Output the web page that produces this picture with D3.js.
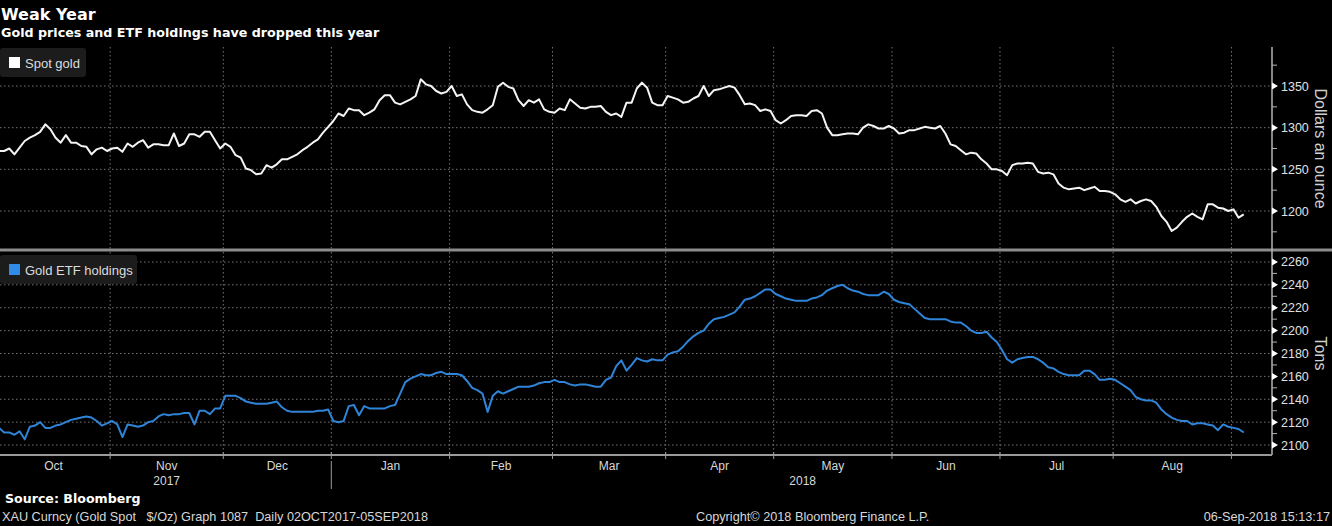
<!DOCTYPE html>
<html>
<head>
<meta charset="utf-8">
<title>Weak Year</title>
<script src="https://cdn.jsdelivr.net/npm/d3@7"></script>
<style>
  body { margin: 0; background: #000; }
  svg { display: block; }
  text { font-family: "Liberation Sans", Arial, sans-serif; }
  .bold { font-family: "DejaVu Sans", Verdana, sans-serif; font-weight: bold; }
</style>
</head>
<body>
<svg id="chart" width="1332" height="526"></svg>
<script>
// one value per trading day, 02 Oct 2017 .. 05 Sep 2018
var goldSpot = [
  1272,1272,1275,1268,1276,1284,1288,1291,1295,1304,1298,1288,1282,1291,1282,1282,1278,1277,1268,1274,
  1276,1272,1275,1276,1271,1281,1277,1282,1285,1276,1280,1280,1279,1279,1293,1278,1281,1292,1292,1289,
  1295,1295,1285,1275,1281,1277,1267,1264,1251,1249,1244,1245,1255,1252,1256,1262,1262,1265,1268,1273,
  1277,1282,1286,1294,1301,1308,1317,1314,1323,1321,1321,1315,1318,1322,1333,1339,1339,1330,1328,1331,
  1334,1338,1358,1352,1350,1344,1341,1343,1350,1338,1340,1328,1321,1319,1318,1322,1327,1349,1354,1349,
  1347,1333,1326,1333,1330,1334,1322,1319,1318,1323,1321,1334,1329,1324,1323,1325,1325,1326,1319,1315,
  1317,1313,1330,1330,1347,1354,1348,1330,1327,1327,1338,1336,1334,1330,1331,1335,1338,1350,1338,1345,
  1346,1348,1350,1348,1339,1328,1329,1327,1320,1322,1320,1309,1305,1309,1314,1315,1315,1314,1320,1321,
  1317,1300,1291,1291,1292,1293,1293,1292,1300,1304,1302,1299,1299,1302,1299,1293,1294,1297,1297,1299,
  1301,1300,1299,1302,1293,1280,1278,1273,1268,1270,1269,1262,1257,1250,1250,1248,1243,1255,1257,1257,
  1258,1257,1247,1245,1246,1244,1233,1228,1226,1227,1228,1225,1227,1229,1224,1224,1223,1220,1214,1211,
  1214,1209,1212,1214,1212,1205,1194,1187,1176,1180,1187,1193,1197,1193,1190,1208,1208,1204,1203,1200,
  1202,1192,1196
];
var etfHoldings = [
  2115,2111,2111,2109,2112,2105,2116,2117,2120,2115,2115,2117,2118,2120,2122,2123,2124,2125,2124,2121,
  2117,2119,2121,2118,2107,2118,2117,2116,2117,2120,2121,2125,2127,2126,2127,2127,2128,2128,2118,2130,
  2130,2127,2132,2132,2143,2143,2143,2141,2138,2137,2136,2136,2136,2137,2138,2133,2130,2129,2129,2129,
  2129,2129,2130,2130,2131,2121,2120,2121,2134,2135,2126,2134,2132,2132,2132,2132,2134,2135,2145,2155,
  2158,2160,2162,2161,2161,2163,2164,2162,2162,2162,2161,2156,2150,2148,2145,2129,2143,2147,2145,2147,
  2149,2151,2151,2151,2152,2154,2155,2155,2157,2155,2155,2153,2152,2153,2153,2152,2151,2151,2157,2159,
  2169,2174,2165,2170,2176,2174,2173,2175,2174,2174,2179,2181,2182,2186,2191,2195,2198,2200,2206,2210,
  2211,2212,2214,2216,2221,2227,2228,2230,2233,2236,2236,2232,2230,2228,2227,2226,2226,2226,2228,2229,
  2231,2235,2237,2239,2240,2237,2235,2234,2232,2231,2231,2231,2234,2232,2227,2225,2224,2223,2219,2215,
  2211,2210,2210,2210,2210,2208,2207,2207,2204,2200,2198,2198,2199,2194,2190,2183,2175,2172,2175,2176,
  2177,2177,2175,2172,2168,2167,2164,2162,2161,2161,2161,2165,2165,2162,2157,2157,2158,2157,2154,2151,
  2148,2142,2140,2139,2139,2137,2131,2127,2124,2122,2121,2121,2118,2119,2119,2118,2117,2113,2118,2116,
  2115,2114,2111
];
var goldTicks = [1200, 1250, 1300, 1350];
var goldMinor = [1175, 1225, 1275, 1325, 1375];
var etfTicks = [2100, 2120, 2140, 2160, 2180, 2200, 2220, 2240, 2260];
var etfMinor = [2110, 2130, 2150, 2170, 2190, 2210, 2230, 2250];
var monthNames = ["Jan","Feb","Mar","Apr","May","Jun","Jul","Aug","Sep","Oct","Nov","Dec"];

// trading days (weekdays) starting 02 Oct 2017
var days = [];
var d = new Date(2017, 9, 2);
while (days.length < goldSpot.length) {
  if (d.getDay() !== 0 && d.getDay() !== 6) days.push(new Date(d));
  d.setDate(d.getDate() + 1);
}

var svg = d3.select("#chart");
var W = 1332, plotRight = 1272;
var topY0 = 47, topY1 = 249, botY0 = 252, botY1 = 455;

var x = d3.scaleLinear().domain([0, 247.5]).range([-1, plotRight]);
var yGold = d3.scaleLinear().domain([1154.4, 1396.8]).range([topY1, topY0]);
var yEtf = d3.scaleLinear().domain([2091.3, 2268.7]).range([botY1, botY0]);

// first trading day of each month
var monthStarts = [];
days.forEach(function (day, i) {
  if (i > 0 && day.getMonth() !== days[i - 1].getMonth()) monthStarts.push(i);
});

var grid = svg.append("g").attr("stroke", "#747474").attr("stroke-dasharray", "1.5,2.5");
monthStarts.forEach(function (i) {
  grid.append("line").attr("x1", x(i) - 2).attr("x2", x(i) - 2).attr("y1", topY0).attr("y2", topY1);
  grid.append("line").attr("x1", x(i) - 2).attr("x2", x(i) - 2).attr("y1", botY0).attr("y2", botY1);
});
goldTicks.forEach(function (v) {
  grid.append("line").attr("x1", 0).attr("x2", plotRight).attr("y1", yGold(v)).attr("y2", yGold(v));
});
etfTicks.forEach(function (v) {
  grid.append("line").attr("x1", 0).attr("x2", plotRight).attr("y1", yEtf(v)).attr("y2", yEtf(v));
});

// lines
var goldLine = d3.line().x(function (v, i) { return x(i); }).y(function (v) { return yGold(v); });
var etfLine = d3.line().x(function (v, i) { return x(i); }).y(function (v) { return yEtf(v); });
svg.append("path").datum(goldSpot).attr("d", goldLine)
  .attr("fill", "none").attr("stroke", "#f4f4f4").attr("stroke-width", 2).attr("stroke-linejoin", "round");
svg.append("path").datum(etfHoldings).attr("d", etfLine)
  .attr("fill", "none").attr("stroke", "#2f84d8").attr("stroke-width", 2).attr("stroke-linejoin", "round");

// panel separator and axes
svg.append("rect").attr("x", 0).attr("y", 248.5).attr("width", W).attr("height", 3).attr("fill", "#8c8c8c");
svg.append("line").attr("x1", plotRight).attr("x2", plotRight).attr("y1", topY0).attr("y2", botY1)
  .attr("stroke", "#b4b4b4").attr("stroke-width", 1.5);
svg.append("line").attr("x1", 0).attr("x2", plotRight).attr("y1", botY1).attr("y2", botY1)
  .attr("stroke", "#9a9a9a").attr("stroke-width", 2);

function rightAxis(scale, ticks, minor) {
  var g = svg.append("g");
  ticks.forEach(function (v) {
    var y = scale(v);
    g.append("path").attr("d", "M" + plotRight + "," + (y - 3.5) + "L" + (plotRight + 6) + "," + y + "L" + plotRight + "," + (y + 3.5) + "Z")
      .attr("fill", "#fff");
    g.append("text").attr("x", plotRight + 9).attr("y", y + 4.5).text(v)
      .attr("fill", "#e0e0e0").attr("font-size", 12.5);
  });
  minor.forEach(function (v) {
    g.append("line").attr("x1", plotRight).attr("x2", plotRight + 5).attr("y1", scale(v)).attr("y2", scale(v))
      .attr("stroke", "#b4b4b4");
  });
}
rightAxis(yGold, goldTicks, goldMinor);
rightAxis(yEtf, etfTicks, etfMinor);

svg.append("text").attr("transform", "translate(1315," + yGold(1275) + ") rotate(90)")
  .attr("text-anchor", "middle").attr("fill", "#d0d0d0").attr("font-size", 16).text("Dollars an ounce");
svg.append("text").attr("transform", "translate(1315," + yEtf(2180) + ") rotate(90)")
  .attr("text-anchor", "middle").attr("fill", "#d0d0d0").attr("font-size", 16).text("Tons");

// month ticks and labels
var bounds = [0].concat(monthStarts).concat([days.length]);
monthStarts.forEach(function (i) {
  svg.append("line").attr("x1", x(i) - 2).attr("x2", x(i) - 2).attr("y1", botY1 - 3).attr("y2", botY1 + 4)
    .attr("stroke", "#9a9a9a");
});
for (var k = 0; k < bounds.length - 2; k++) {
  var mid = (x(bounds[k]) + x(bounds[k + 1])) / 2 - 2;
  svg.append("text").attr("x", mid).attr("y", 470).attr("text-anchor", "middle")
    .attr("fill", "#d8d8d8").attr("font-size", 12).text(monthNames[days[bounds[k]].getMonth()]);
}
var janIdx = monthStarts[2];
svg.append("line").attr("x1", x(janIdx) - 2).attr("x2", x(janIdx) - 2).attr("y1", 461).attr("y2", 489)
  .attr("stroke", "#9a9a9a");
svg.append("text").attr("x", x(janIdx) / 2).attr("y", 485).attr("text-anchor", "middle")
  .attr("fill", "#d8d8d8").attr("font-size", 12).text("2017");
svg.append("text").attr("x", (x(janIdx) + plotRight) / 2).attr("y", 485).attr("text-anchor", "middle")
  .attr("fill", "#d8d8d8").attr("font-size", 12).text("2018");

// legends
function legend(y, color, label, w) {
  svg.append("rect").attr("x", 0).attr("y", y).attr("width", w).attr("height", 29).attr("rx", 3)
    .attr("fill", "#1c1c1c");
  svg.append("rect").attr("x", 9).attr("y", y + 9).attr("width", 11).attr("height", 11).attr("fill", color);
  svg.append("text").attr("x", 25).attr("y", y + 19.5).attr("fill", "#dcdcdc").attr("font-size", 13).text(label);
}
legend(48, "#ffffff", "Spot gold", 86);
legend(255, "#2f8be6", "Gold ETF holdings", 137);

// titles and footer
svg.append("text").attr("class", "bold").attr("x", 1).attr("y", 20).attr("fill", "#fff")
  .attr("font-size", 16).text("Weak Year");
svg.append("text").attr("class", "bold").attr("x", 1).attr("y", 37).attr("fill", "#fff")
  .attr("font-size", 12.7).text("Gold prices and ETF holdings have dropped this year");
svg.append("text").attr("class", "bold").attr("x", 5).attr("y", 503).attr("fill", "#fff")
  .attr("font-size", 12.6).text("Source: Bloomberg");
svg.append("text").attr("x", 2).attr("y", 521).attr("fill", "#d8d8d8").attr("font-size", 12.7)
  .attr("xml:space", "preserve").text("XAU Curncy (Gold Spot   $/Oz) Graph 1087  Daily 02OCT2017-05SEP2018");
svg.append("text").attr("x", 696).attr("y", 521).attr("fill", "#d8d8d8").attr("font-size", 12.7)
  .text("Copyright\u00a9 2018 Bloomberg Finance L.P.");
svg.append("text").attr("x", 1330).attr("y", 521).attr("text-anchor", "end").attr("fill", "#d8d8d8")
  .attr("font-size", 12.7).text("06-Sep-2018 15:13:17");
</script>
</body>
</html>
